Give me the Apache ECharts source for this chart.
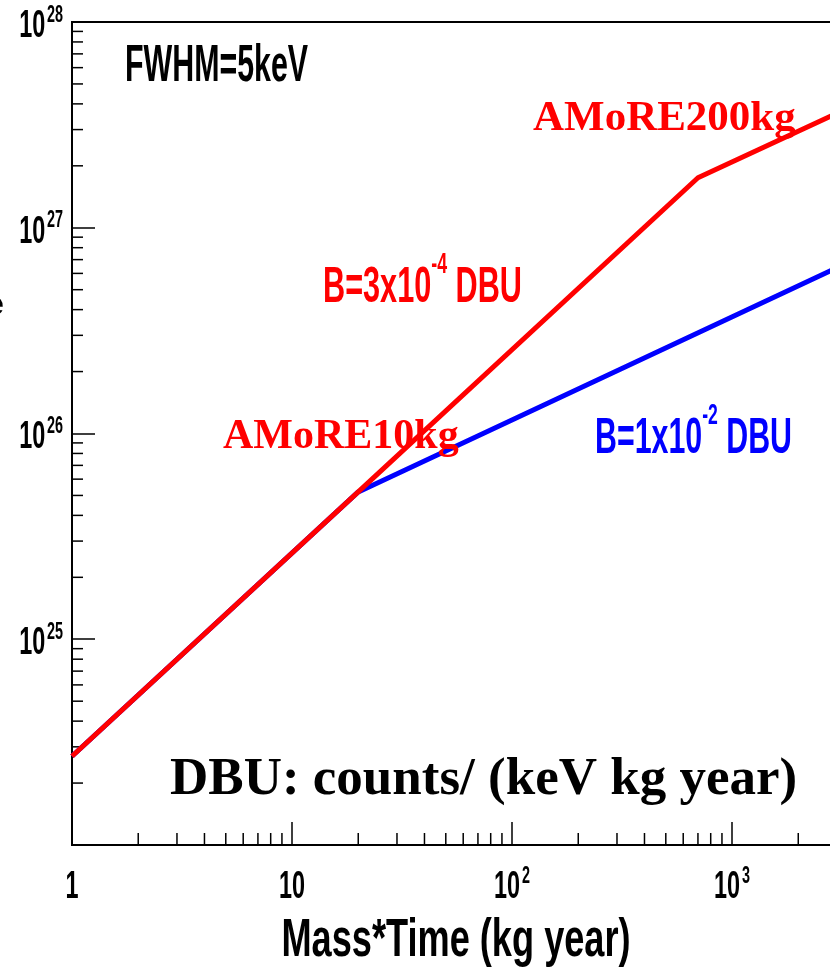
<!DOCTYPE html>
<html>
<head>
<meta charset="utf-8">
<script src="https://cdn.jsdelivr.net/npm/echarts@6/dist/echarts.min.js"></script>
<style>
  html, body { margin: 0; padding: 0; background: #fff; }
  #chart { width: 830px; height: 974px; }
</style>
</head>
<body>
<div id="chart"></div>
<script>
// values (log-log)
const redMassTime = [1, 20, 700, 3000];
const redSensitivity = [2.7e24, 5.2e25, 1.75e27, 3.6e27];
const blueMassTime = [1, 20, 3000];
const blueSensitivity = [2.7e24, 5.2e25, 6.4e26];

const xTickValues = [1, 10, 100, 1000];
const xTickLabels = ['{b|1}', '{b|10}', '{b|10}{s|2}', '{b|10}{s|3}'];
const yTickValues = [1e25, 1e26, 1e27, 1e28];
const yTickLabels = ['{b|10}{s|25}', '{b|10}{s|26}', '{b|10}{s|27}', '{b|10}{s|28}'];

const minorSteps = [2, 3, 4, 5, 6, 7, 8, 9];
const xDecades = [1, 10, 100, 1000];
const yDecades = [1e24, 1e25, 1e26, 1e27];

const X_MIN = 1, X_MAX = 3000, Y_MIN = 1e24, Y_MAX = 1e28;
const SANS = "'Liberation Sans', Arial, sans-serif";
const SERIF = "'Liberation Serif', 'DejaVu Serif', serif";

const xMinor = [];
xDecades.forEach(d => minorSteps.forEach(m => { if (d * m <= X_MAX) xMinor.push([d * m, Y_MIN]) }));
const yMinor = [];
yDecades.forEach(d => minorSteps.forEach(m => yMinor.push([X_MIN, d * m])));

// tick labels are drawn at the axis positions, squeezed like the narrow font of the original
const tickRich = {
  b: { font: 'bold 39px ' + SANS, fill: '#000', lineHeight: 46 },
  s: { font: 'bold 24px ' + SANS, fill: '#000', verticalAlign: 'top', padding: [0, 0, 0, 3] }
};

function supText(x, y, scaleX, main, sup, tail, color) {
  return {
    type: 'text', x: x, y: y, scaleX: scaleX, silent: true, z: 10,
    style: {
      text: '{n|' + main + '}{s|' + sup + '}{n|' + tail + '}', fill: color, textVerticalAlign: 'middle',
      rich: {
        n: { font: 'bold 50px ' + SANS, fill: color, lineHeight: 76 },
        s: { font: 'bold 29px ' + SANS, fill: color, verticalAlign: 'top', lineHeight: 30 }
      }
    }
  };
}

const chart = echarts.init(document.getElementById('chart'));

chart.setOption({
  animation: false,
  backgroundColor: '#fff',
  grid: {
    left: 72, right: -7, top: 22, bottom: 129,
    show: true, borderColor: '#000', borderWidth: 2,
    containLabel: false, outerBoundsMode: 'none'
  },
  xAxis: {
    type: 'log', logBase: 10, min: X_MIN, max: X_MAX,
    axisLine: { lineStyle: { color: '#000', width: 2 } },
    axisTick: { inside: true, length: 23, lineStyle: { color: '#000', width: 1.5 } },
    axisLabel: { show: false },
    splitLine: { show: false }
  },
  yAxis: {
    type: 'log', logBase: 10, min: Y_MIN, max: Y_MAX,
    axisLine: { lineStyle: { color: '#000', width: 2 } },
    axisTick: { inside: true, length: 23, lineStyle: { color: '#000', width: 1.5 } },
    axisLabel: { show: false },
    splitLine: { show: false }
  },
  series: [
    {
      type: 'custom', silent: true, data: xMinor,
      renderItem: (params, api) => {
        const p = api.coord([api.value(0), api.value(1)]);
        return { type: 'line', shape: { x1: p[0], y1: p[1], x2: p[0], y2: p[1] - 12 }, style: { stroke: '#000', lineWidth: 1.5 } };
      }
    },
    {
      type: 'custom', silent: true, data: yMinor,
      renderItem: (params, api) => {
        const p = api.coord([api.value(0), api.value(1)]);
        return { type: 'line', shape: { x1: p[0], y1: p[1], x2: p[0] + 11, y2: p[1] }, style: { stroke: '#000', lineWidth: 1.5 } };
      }
    },
    {
      // x tick labels
      type: 'custom', silent: true,
      data: xTickValues.map((v, i) => [v, Y_MIN, i]),
      renderItem: (params, api) => {
        const p = api.coord([api.value(0), api.value(1)]);
        return {
          type: 'text', x: p[0], y: p[1] + 42, scaleX: 0.6,
          style: { text: xTickLabels[api.value(2)], rich: tickRich, textAlign: 'center', textVerticalAlign: 'middle' }
        };
      }
    },
    {
      // y tick labels
      type: 'custom', silent: true,
      data: yTickValues.map((v, i) => [X_MIN, v, i]),
      renderItem: (params, api) => {
        const p = api.coord([api.value(0), api.value(1)]);
        return {
          type: 'text', x: p[0] - 9, y: p[1] + 4, scaleX: 0.6,
          style: { text: yTickLabels[api.value(2)], rich: tickRich, textAlign: 'right', textVerticalAlign: 'middle' }
        };
      }
    },
    {
      name: 'B=1x10-2 DBU', type: 'line', showSymbol: false, z: 3,
      data: blueMassTime.map((x, i) => [x, blueSensitivity[i]]),
      lineStyle: { color: '#0000ff', width: 5 }
    },
    {
      name: 'B=3x10-4 DBU', type: 'line', showSymbol: false, z: 4,
      data: redMassTime.map((x, i) => [x, redSensitivity[i]]),
      lineStyle: { color: '#ff0000', width: 5 }
    }
  ],
  graphic: [
    { type: 'text', x: -15, y: 306, silent: true,
      style: { text: 'e', font: 'bold 34px ' + SANS, fill: '#000', textVerticalAlign: 'middle' } },
    { type: 'text', x: 125, y: 67, scaleX: 0.584, silent: true,
      style: { text: 'FWHM=5keV', font: 'bold 52px ' + SANS, fill: '#000', textVerticalAlign: 'middle' } },
    { type: 'text', x: 533, y: 119, silent: true, z: 10,
      style: { text: 'AMoRE200kg', font: 'bold 43px ' + SERIF, fill: '#ff0000', textVerticalAlign: 'middle' } },
    supText(323, 288, 0.613, 'B=3x10', '-4', ' DBU', '#ff0000'),
    { type: 'text', x: 223, y: 437, silent: true, z: 10,
      style: { text: 'AMoRE10kg', font: 'bold 42px ' + SERIF, fill: '#ff0000', textVerticalAlign: 'middle' } },
    supText(595, 439, 0.607, 'B=1x10', '-2', ' DBU', '#0000ff'),
    { type: 'text', x: 170, y: 780, silent: true,
      style: { text: 'DBU: counts/ (keV kg year)', font: 'bold 53px ' + SERIF, fill: '#000', textVerticalAlign: 'middle' } },
    // x-axis title
    { type: 'text', x: 456, y: 941, scaleX: 0.67, silent: true,
      style: { text: 'Mass*Time (kg year)', font: 'bold 54px ' + SANS, fill: '#000', textAlign: 'center', textVerticalAlign: 'middle' } }
  ]
});

window.addEventListener('resize', () => chart.resize());
</script>
</body>
</html>
